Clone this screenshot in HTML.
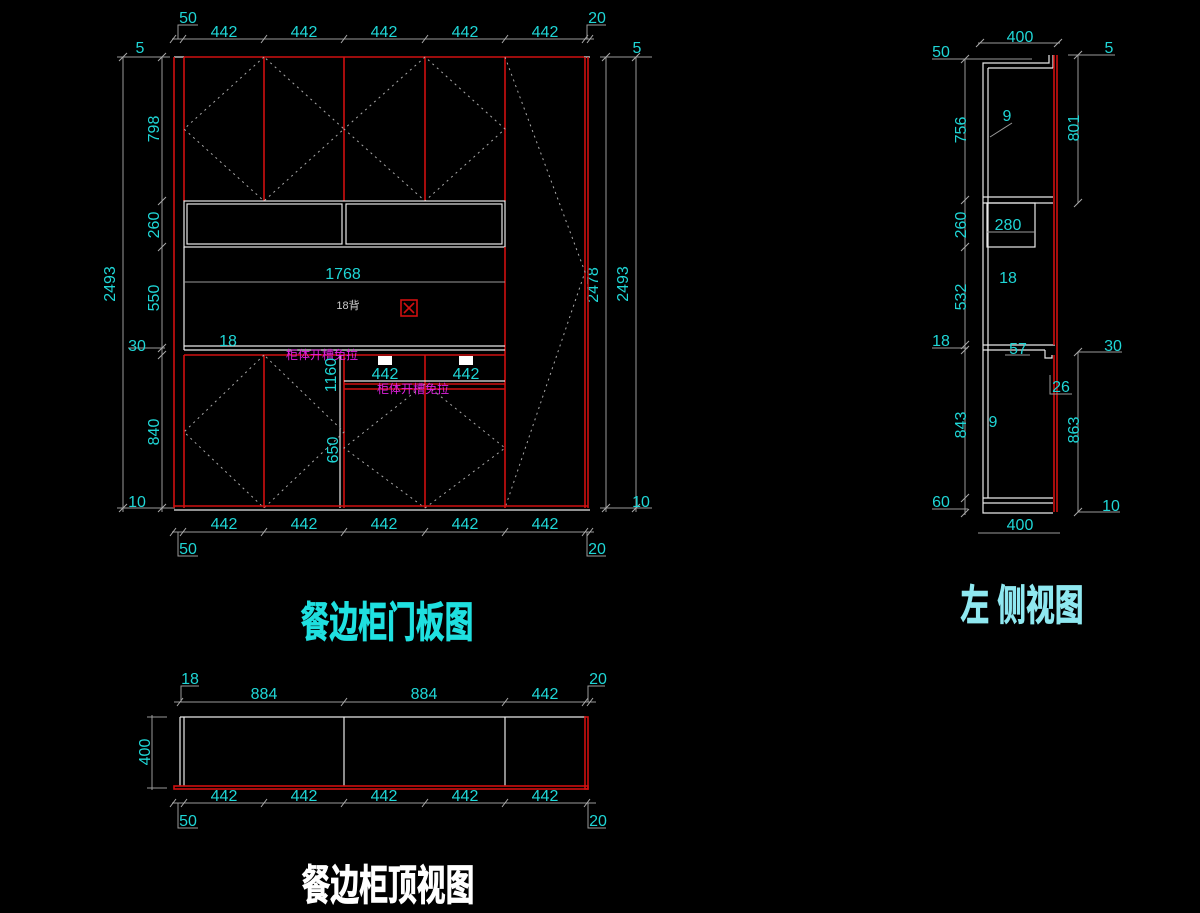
<!DOCTYPE html>
<html><head><meta charset="utf-8"><style>
html,body{margin:0;padding:0;background:#000;width:1200px;height:913px;overflow:hidden}
svg{display:block}
.c{fill:#1fd6d6;font-family:"Liberation Sans",sans-serif;font-size:16px;text-anchor:middle}
.d{stroke:#9a9a9a;stroke-width:1;fill:none}
.r{stroke:#d01010;stroke-width:1.6;fill:none}
.w{stroke:#e8e8e8;stroke-width:1.2;fill:none}
.dot{stroke:#aaa;stroke-width:1;stroke-dasharray:2 4;fill:none}
.t{stroke:#aaa;stroke-width:1}
.m{fill:#e020e0;font-family:"Liberation Sans","Noto Sans CJK SC",sans-serif;font-size:12px;text-anchor:middle}
.ti{font-family:"Liberation Sans","Noto Sans CJK SC",sans-serif;font-size:40px;font-weight:bold;text-anchor:middle;stroke-width:0.8}
</style></head><body>
<svg width="1200" height="913" viewBox="0 0 1200 913" xmlns="http://www.w3.org/2000/svg">
<!-- FRONT VIEW -->
<line class="d" x1="172" y1="39" x2="594" y2="39"/>
<g class="t">
<line x1="170" y1="43" x2="176" y2="35"/><line x1="180" y1="43" x2="186" y2="35"/><line x1="261" y1="43" x2="267" y2="35"/><line x1="341" y1="43" x2="347" y2="35"/><line x1="422" y1="43" x2="428" y2="35"/><line x1="502" y1="43" x2="508" y2="35"/><line x1="582" y1="43" x2="588" y2="35"/><line x1="587" y1="43" x2="593" y2="35"/>
</g>
<polyline class="d" points="178,39 178,25 198,25"/><polyline class="d" points="587,39 587,25 606,25"/>
<text class="c" x="188" y="23">50</text><text class="c" x="597" y="23">20</text>
<text class="c" x="224" y="37">442</text><text class="c" x="304" y="37">442</text><text class="c" x="384" y="37">442</text><text class="c" x="465" y="37">442</text><text class="c" x="545" y="37">442</text>
<line class="d" x1="172" y1="532" x2="594" y2="532"/>
<g class="t">
<line x1="170" y1="536" x2="176" y2="528"/><line x1="180" y1="536" x2="186" y2="528"/><line x1="261" y1="536" x2="267" y2="528"/><line x1="341" y1="536" x2="347" y2="528"/><line x1="422" y1="536" x2="428" y2="528"/><line x1="502" y1="536" x2="508" y2="528"/><line x1="582" y1="536" x2="588" y2="528"/><line x1="587" y1="536" x2="593" y2="528"/>
</g>
<polyline class="d" points="178,532 178,556 198,556"/><polyline class="d" points="587,532 587,556 606,556"/>
<text class="c" x="188" y="554">50</text><text class="c" x="597" y="554">20</text>
<text class="c" x="224" y="529">442</text><text class="c" x="304" y="529">442</text><text class="c" x="384" y="529">442</text><text class="c" x="465" y="529">442</text><text class="c" x="545" y="529">442</text>
<line class="d" x1="123" y1="57" x2="123" y2="512"/><line class="d" x1="162" y1="57" x2="162" y2="512"/>
<line class="d" x1="117" y1="57" x2="170" y2="57"/><line class="d" x1="117" y1="508" x2="175" y2="508"/>
<line class="d" x1="128" y1="348" x2="165" y2="348"/>
<g class="t">
<line x1="119" y1="61" x2="127" y2="53"/><line x1="158" y1="61" x2="166" y2="53"/><line x1="158" y1="205" x2="166" y2="197"/><line x1="158" y1="251" x2="166" y2="243"/><line x1="158" y1="352" x2="166" y2="344"/><line x1="158" y1="359" x2="166" y2="351"/><line x1="119" y1="512" x2="127" y2="504"/><line x1="158" y1="512" x2="166" y2="504"/>
</g>
<text class="c" x="140" y="53">5</text><text class="c" x="137" y="351">30</text><text class="c" x="137" y="507">10</text>
<text class="c" transform="translate(159,129) rotate(-90)">798</text>
<text class="c" transform="translate(159,225) rotate(-90)">260</text>
<text class="c" transform="translate(159,298) rotate(-90)">550</text>
<text class="c" transform="translate(159,432) rotate(-90)">840</text>
<text class="c" transform="translate(115,284) rotate(-90)">2493</text>
<line class="d" x1="606" y1="57" x2="606" y2="512"/><line class="d" x1="636" y1="57" x2="636" y2="512"/>
<line class="d" x1="600" y1="57" x2="652" y2="57"/><line class="d" x1="600" y1="508" x2="652" y2="508"/>
<g class="t"><line x1="602" y1="61" x2="610" y2="53"/><line x1="632" y1="61" x2="640" y2="53"/><line x1="602" y1="512" x2="610" y2="504"/><line x1="632" y1="512" x2="640" y2="504"/></g>
<text class="c" x="637" y="53">5</text><text class="c" x="641" y="507">10</text>
<text class="c" transform="translate(628,284) rotate(-90)">2493</text>
<text class="c" transform="translate(598,285) rotate(-90)">2478</text>
<line class="w" x1="174" y1="57" x2="184" y2="57"/>
<line class="r" x1="184" y1="57" x2="584" y2="57"/>
<line class="w" x1="584" y1="57" x2="590" y2="57"/>
<line class="r" x1="174" y1="57" x2="174" y2="508"/>
<line class="r" x1="184" y1="57" x2="184" y2="201"/>
<line class="r" x1="585" y1="57" x2="585" y2="508"/><line class="r" x1="588" y1="57" x2="588" y2="508"/>
<line class="r" x1="264" y1="57" x2="264" y2="201"/><line class="r" x1="344" y1="57" x2="344" y2="201"/><line class="r" x1="425" y1="57" x2="425" y2="201"/><line class="r" x1="505" y1="57" x2="505" y2="201"/>
<polygon class="dot" points="264,57 184,129 264,201 344,129"/>
<polygon class="dot" points="425,57 344,129 425,201 505,129"/>
<polyline class="dot" points="505,57 585,272 505,508"/>
<rect class="w" x="184" y="201" width="321" height="46"/>
<rect class="w" x="187" y="204" width="155" height="40"/><rect class="w" x="346" y="204" width="156" height="40"/>
<line class="w" x1="184" y1="247" x2="184" y2="350"/>
<line class="r" x1="505" y1="247" x2="505" y2="508"/>
<line class="d" x1="184" y1="282" x2="505" y2="282"/>
<text class="c" x="343" y="279">1768</text>
<text x="348" y="309" style="fill:#ccc;font-family:'Liberation Sans','Noto Sans CJK SC',sans-serif;font-size:11px;text-anchor:middle">18背</text>
<rect class="r" x="401" y="300" width="16" height="16"/><line class="r" x1="404" y1="303" x2="414" y2="313"/><line class="r" x1="414" y1="303" x2="404" y2="313"/>
<line class="w" x1="184" y1="346" x2="505" y2="346"/><line class="w" x1="184" y1="350" x2="505" y2="350"/>
<text class="c" x="228" y="346">18</text>
<line class="r" x1="184" y1="355" x2="505" y2="355"/>
<line class="r" x1="184" y1="355" x2="184" y2="508"/>
<line class="r" x1="264" y1="355" x2="264" y2="508"/>
<line class="w" x1="340" y1="355" x2="340" y2="508"/>
<line class="r" x1="344" y1="355" x2="344" y2="508"/>
<line class="r" x1="425" y1="355" x2="425" y2="508"/>
<line class="w" x1="344" y1="381" x2="505" y2="381"/>
<line class="r" x1="344" y1="384" x2="505" y2="384"/><line class="r" x1="344" y1="389" x2="505" y2="389"/>
<polygon class="dot" points="264,355 184,432 264,508 344,432"/>
<polygon class="dot" points="425,384 344,448 425,508 505,448"/>
<line class="r" x1="174" y1="506" x2="588" y2="506"/>
<line class="w" x1="174" y1="510" x2="590" y2="510"/>
<text class="m" x="322" y="359">柜体开槽免拉</text>
<text class="m" x="413" y="393">柜体开槽免拉</text>
<rect x="378" y="356" width="14" height="9" fill="#fff"/><rect x="459" y="356" width="14" height="9" fill="#fff"/>
<text class="c" x="385" y="379">442</text><text class="c" x="466" y="379">442</text>
<text class="c" transform="translate(336,375) rotate(-90)">1160</text>
<text class="c" transform="translate(338,450) rotate(-90)">650</text>
<text class="ti" fill="#1fe0e0" stroke="#1fe0e0" transform="translate(387,637) scale(0.72,1.05)">餐边柜门板图</text>

<!-- SIDE VIEW -->
<line class="d" x1="978" y1="43" x2="1060" y2="43"/>
<g class="t"><line x1="976" y1="47" x2="984" y2="39"/><line x1="1054" y1="47" x2="1062" y2="39"/></g>
<text class="c" x="1020" y="42">400</text>
<line class="d" x1="932" y1="59" x2="1032" y2="59"/>
<line class="d" x1="965" y1="59" x2="965" y2="515"/>
<g class="t"><line x1="961" y1="63" x2="969" y2="55"/><line x1="961" y1="204" x2="969" y2="196"/><line x1="961" y1="251" x2="969" y2="243"/><line x1="961" y1="349" x2="969" y2="341"/><line x1="961" y1="354" x2="969" y2="346"/><line x1="961" y1="502" x2="969" y2="494"/><line x1="961" y1="517" x2="969" y2="509"/></g>
<line class="d" x1="932" y1="348" x2="968" y2="348"/><line class="d" x1="932" y1="509" x2="968" y2="509"/>
<text class="c" x="941" y="57">50</text><text class="c" x="941" y="346">18</text><text class="c" x="941" y="507">60</text>
<text class="c" transform="translate(966,130) rotate(-90)">756</text>
<text class="c" transform="translate(966,225) rotate(-90)">260</text>
<text class="c" transform="translate(966,297) rotate(-90)">532</text>
<text class="c" transform="translate(966,425) rotate(-90)">843</text>
<line class="d" x1="1068" y1="55" x2="1115" y2="55"/>
<line class="d" x1="1078" y1="55" x2="1078" y2="203"/>
<line class="d" x1="1078" y1="352" x2="1078" y2="512"/>
<line class="d" x1="1078" y1="352" x2="1122" y2="352"/><line class="d" x1="1078" y1="512" x2="1120" y2="512"/>
<g class="t"><line x1="1074" y1="59" x2="1082" y2="51"/><line x1="1074" y1="207" x2="1082" y2="199"/><line x1="1074" y1="356" x2="1082" y2="348"/><line x1="1074" y1="516" x2="1082" y2="508"/></g>
<text class="c" x="1109" y="53">5</text><text class="c" x="1113" y="351">30</text><text class="c" x="1111" y="511">10</text>
<text class="c" transform="translate(1079,128) rotate(-90)">801</text>
<text class="c" transform="translate(1079,430) rotate(-90)">863</text>
<polyline class="w" points="1049,55 1049,63 983,63 983,513 1053,513"/>
<line class="w" x1="988" y1="68" x2="988" y2="498"/>
<line class="w" x1="988" y1="68" x2="1053" y2="68"/>
<line class="w" x1="1053" y1="55" x2="1053" y2="68"/>
<line class="w" x1="983" y1="197" x2="1053" y2="197"/><line class="w" x1="983" y1="203" x2="1053" y2="203"/>
<rect class="w" x="987" y="203" width="48" height="44"/>
<line class="w" x1="983" y1="345" x2="1055" y2="345"/><line class="w" x1="983" y1="350" x2="1045" y2="350"/>
<polyline class="w" points="1045,350 1045,358 1052,358 1052,355"/>
<line class="w" x1="983" y1="498" x2="1053" y2="498"/><line class="w" x1="983" y1="503" x2="1053" y2="503"/>
<line class="r" x1="1054" y1="55" x2="1054" y2="345"/><line class="r" x1="1057" y1="55" x2="1057" y2="512"/>
<line class="r" x1="1054" y1="355" x2="1054" y2="512"/>
<line class="d" x1="987" y1="232" x2="1035" y2="232"/>
<text class="c" x="1008" y="230">280</text>
<text class="c" x="1008" y="283">18</text>
<text class="c" x="1007" y="121">9</text><line class="d" x1="990" y1="137" x2="1012" y2="123"/>
<text class="c" x="993" y="427">9</text>
<line class="d" x1="1005" y1="355" x2="1030" y2="355"/>
<text class="c" x="1018" y="354">57</text>
<polyline class="d" points="1050,375 1050,394 1072,394"/>
<text class="c" x="1061" y="392">26</text>
<line class="d" x1="978" y1="533" x2="1060" y2="533"/>
<text class="c" x="1020" y="530">400</text>
<text class="ti" fill="#8fe8f0" stroke="#8fe8f0" transform="translate(1022,620) scale(0.72,1.05)">左 侧视图</text>

<!-- TOP VIEW -->
<line class="d" x1="174" y1="702" x2="596" y2="702"/>
<g class="t"><line x1="177" y1="706" x2="183" y2="698"/><line x1="341" y1="706" x2="347" y2="698"/><line x1="502" y1="706" x2="508" y2="698"/><line x1="582" y1="706" x2="588" y2="698"/><line x1="587" y1="706" x2="593" y2="698"/></g>
<polyline class="d" points="181,702 181,686 199,686"/><polyline class="d" points="588,702 588,686 605,686"/>
<text class="c" x="190" y="684">18</text><text class="c" x="598" y="684">20</text>
<text class="c" x="264" y="699">884</text><text class="c" x="424" y="699">884</text><text class="c" x="545" y="699">442</text>
<line class="d" x1="147" y1="717" x2="167" y2="717"/><line class="d" x1="147" y1="788" x2="167" y2="788"/>
<line class="d" x1="152" y1="715" x2="152" y2="790"/>
<text class="c" transform="translate(150,752) rotate(-90)">400</text>
<line class="w" x1="180" y1="717" x2="586" y2="717"/>
<line class="w" x1="180" y1="717" x2="180" y2="786"/><line class="w" x1="184" y1="717" x2="184" y2="786"/>
<line class="w" x1="344" y1="717" x2="344" y2="786"/><line class="w" x1="505" y1="717" x2="505" y2="786"/>
<rect class="r" x="174" y="786" width="414" height="3"/>
<rect class="r" x="585" y="717" width="3" height="72"/>
<line class="d" x1="172" y1="803" x2="596" y2="803"/>
<g class="t"><line x1="170" y1="807" x2="176" y2="799"/><line x1="181" y1="807" x2="187" y2="799"/><line x1="261" y1="807" x2="267" y2="799"/><line x1="341" y1="807" x2="347" y2="799"/><line x1="422" y1="807" x2="428" y2="799"/><line x1="502" y1="807" x2="508" y2="799"/><line x1="584" y1="807" x2="590" y2="799"/></g>
<polyline class="d" points="178,803 178,828 198,828"/><polyline class="d" points="588,803 588,828 606,828"/>
<text class="c" x="188" y="826">50</text><text class="c" x="598" y="826">20</text>
<text class="c" x="224" y="801">442</text><text class="c" x="304" y="801">442</text><text class="c" x="384" y="801">442</text><text class="c" x="465" y="801">442</text><text class="c" x="545" y="801">442</text>
<text class="ti" fill="#ffffff" stroke="#ffffff" transform="translate(388,900) scale(0.72,1.05)">餐边柜顶视图</text>
</svg>
</body></html>
